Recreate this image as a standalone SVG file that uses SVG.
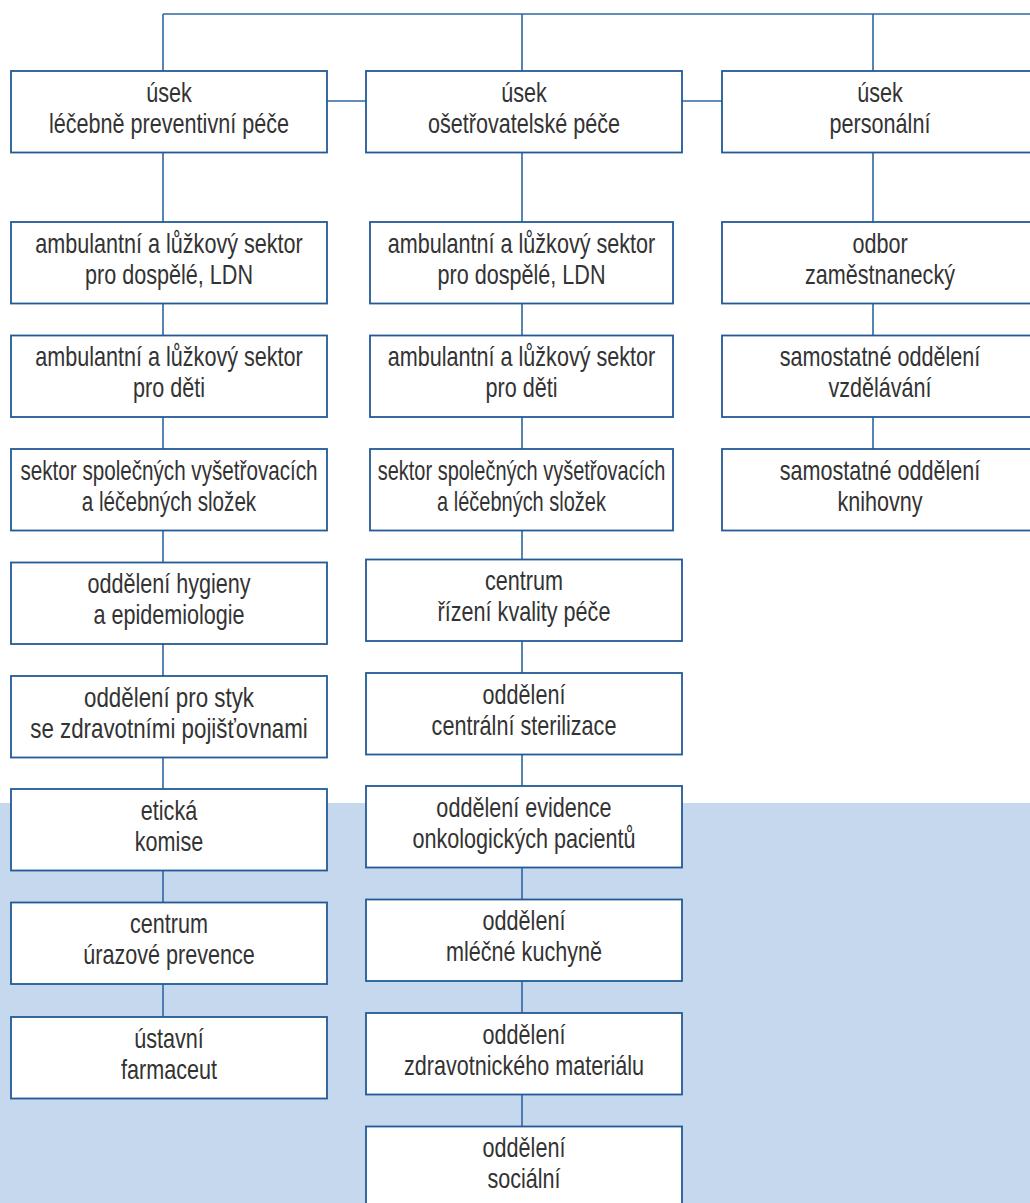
<svg xmlns="http://www.w3.org/2000/svg" width="1030" height="1203" viewBox="0 0 1030 1203">
<style>
.bg{fill:#c6d8ee}
.box{fill:#ffffff;stroke:#215a96;stroke-width:1.8}
.ln{stroke:#2f67a3;stroke-width:1.6;fill:none}
.t{font-family:"Liberation Sans",Arial,sans-serif;font-size:27px;fill:#333333;text-anchor:middle}
</style>
<rect x="0" y="0" width="1030" height="1203" fill="#ffffff"/>
<rect class="bg" x="0" y="803" width="1030" height="400"/>
<g id="connectors">
<path class="ln" d="M163,14 H1030 M163,14 V71 M522,14 V71 M873,14 V71 M327,101 H366 M682,101 H722"/>
<path class="ln" d="M163,152 V222 M163,303 V335 M163,417 V449 M163,530 V562 M163,643 V676 M163,757 V789 M163,870 V902 M163,984 V1017"/>
<path class="ln" d="M522,152 V222 M522,303 V335 M522,417 V449 M522,530 V559 M522,641 V673 M522,754 V786 M522,868 V899 M522,981 V1013 M522,1094 V1126"/>
<path class="ln" d="M873,152 V222 M873,303 V335 M873,417 V449"/>
</g>
<g id="l1"><rect class="box" x="11" y="71" width="316" height="81.5"/><g transform="translate(169,0) scale(0.8,1)"><text class="t" x="0" y="102">úsek</text><text class="t" x="0" y="133">léčebně preventivní péče</text></g></g>
<g id="l2"><rect class="box" x="11" y="222" width="316" height="81.5"/><g transform="translate(169,0) scale(0.8,1)"><text class="t" x="0" y="253">ambulantní a lůžkový sektor</text><text class="t" x="0" y="284">pro dospělé, LDN</text></g></g>
<g id="l3"><rect class="box" x="11" y="335.5" width="316" height="81.5"/><g transform="translate(169,0) scale(0.8,1)"><text class="t" x="0" y="366.5">ambulantní a lůžkový sektor</text><text class="t" x="0" y="397.5">pro děti</text></g></g>
<g id="l4"><rect class="box" x="11" y="449" width="316" height="81.5"/><g transform="translate(169,0) scale(0.765,1)"><text class="t" x="0" y="480">sektor společných vyšetřovacích</text><text class="t" x="0" y="511">a léčebných složek</text></g></g>
<g id="l5"><rect class="box" x="11" y="562.5" width="316" height="81.5"/><g transform="translate(169,0) scale(0.8,1)"><text class="t" x="0" y="593.5">oddělení hygieny</text><text class="t" x="0" y="624.5">a epidemiologie</text></g></g>
<g id="l6"><rect class="box" x="11" y="676" width="316" height="81.5"/><g transform="translate(169,0) scale(0.827,1)"><text class="t" x="0" y="707">oddělení pro styk</text><text class="t" x="0" y="738">se zdravotními pojišťovnami</text></g></g>
<g id="l7"><rect class="box" x="11" y="789" width="316" height="81.5"/><g transform="translate(169,0) scale(0.8,1)"><text class="t" x="0" y="820">etická</text><text class="t" x="0" y="851">komise</text></g></g>
<g id="l8"><rect class="box" x="11" y="902.5" width="316" height="81.5"/><g transform="translate(169,0) scale(0.8,1)"><text class="t" x="0" y="933.5">centrum</text><text class="t" x="0" y="964.5">úrazové prevence</text></g></g>
<g id="l9"><rect class="box" x="11" y="1017" width="316" height="81.5"/><g transform="translate(169,0) scale(0.8,1)"><text class="t" x="0" y="1048">ústavní</text><text class="t" x="0" y="1079">farmaceut</text></g></g>
<g id="m1"><rect class="box" x="366" y="71" width="316" height="81.5"/><g transform="translate(524,0) scale(0.8,1)"><text class="t" x="0" y="102">úsek</text><text class="t" x="0" y="133">ošetřovatelské péče</text></g></g>
<g id="m2"><rect class="box" x="370" y="222" width="303" height="81.5"/><g transform="translate(521.5,0) scale(0.8,1)"><text class="t" x="0" y="253">ambulantní a lůžkový sektor</text><text class="t" x="0" y="284">pro dospělé, LDN</text></g></g>
<g id="m3"><rect class="box" x="370" y="335.5" width="303" height="81.5"/><g transform="translate(521.5,0) scale(0.8,1)"><text class="t" x="0" y="366.5">ambulantní a lůžkový sektor</text><text class="t" x="0" y="397.5">pro děti</text></g></g>
<g id="m4"><rect class="box" x="370" y="449" width="303" height="81.5"/><g transform="translate(521.5,0) scale(0.74,1)"><text class="t" x="0" y="480">sektor společných vyšetřovacích</text><text class="t" x="0" y="511">a léčebných složek</text></g></g>
<g id="m5"><rect class="box" x="366" y="559.5" width="316" height="81.5"/><g transform="translate(524,0) scale(0.8,1)"><text class="t" x="0" y="590.5">centrum</text><text class="t" x="0" y="621.5">řízení kvality péče</text></g></g>
<g id="m6"><rect class="box" x="366" y="673" width="316" height="81.5"/><g transform="translate(524,0) scale(0.8,1)"><text class="t" x="0" y="704">oddělení</text><text class="t" x="0" y="735">centrální sterilizace</text></g></g>
<g id="m7"><rect class="box" x="366" y="786" width="316" height="81.5"/><g transform="translate(524,0) scale(0.8,1)"><text class="t" x="0" y="817">oddělení evidence</text><text class="t" x="0" y="848">onkologických pacientů</text></g></g>
<g id="m8"><rect class="box" x="366" y="899.5" width="316" height="81.5"/><g transform="translate(524,0) scale(0.8,1)"><text class="t" x="0" y="930.5">oddělení</text><text class="t" x="0" y="961.5">mléčné kuchyně</text></g></g>
<g id="m9"><rect class="box" x="366" y="1013" width="316" height="81.5"/><g transform="translate(524,0) scale(0.8,1)"><text class="t" x="0" y="1044">oddělení</text><text class="t" x="0" y="1075">zdravotnického materiálu</text></g></g>
<g id="m10"><rect class="box" x="366" y="1126.5" width="316" height="90"/><g transform="translate(524,0) scale(0.8,1)"><text class="t" x="0" y="1157.5">oddělení</text><text class="t" x="0" y="1188.5">sociální</text></g></g>
<g id="r1"><rect class="box" x="722" y="71" width="316" height="81.5"/><g transform="translate(880,0) scale(0.8,1)"><text class="t" x="0" y="102">úsek</text><text class="t" x="0" y="133">personální</text></g></g>
<g id="r2"><rect class="box" x="722" y="222" width="316" height="81.5"/><g transform="translate(880,0) scale(0.8,1)"><text class="t" x="0" y="253">odbor</text><text class="t" x="0" y="284">zaměstnanecký</text></g></g>
<g id="r3"><rect class="box" x="722" y="335.5" width="316" height="81.5"/><g transform="translate(880,0) scale(0.8,1)"><text class="t" x="0" y="366.5">samostatné oddělení</text><text class="t" x="0" y="397.5">vzdělávání</text></g></g>
<g id="r4"><rect class="box" x="722" y="449" width="316" height="81.5"/><g transform="translate(880,0) scale(0.8,1)"><text class="t" x="0" y="480">samostatné oddělení</text><text class="t" x="0" y="511">knihovny</text></g></g>
</svg>
